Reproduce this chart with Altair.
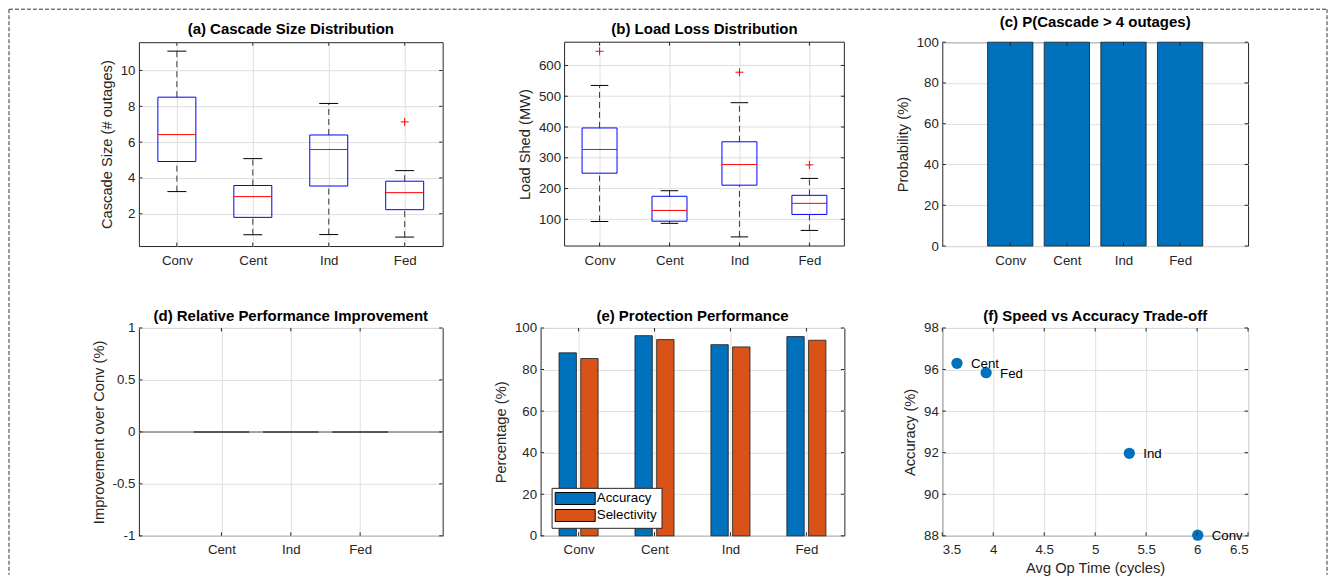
import altair as alt
import pandas as pd

FONT = "Liberation Sans"
TXT = "#262626"
GRID = "#dfdfdf"
BLUE = "#0072BD"
ORANGE = "#D95319"
EDGE = "#1a1a1a"

CATS = ["Conv", "Cent", "Ind", "Fed"]

# (a) cascade size box statistics
A_LO = [3.24, 0.83, 0.84, 0.70]
A_Q1 = [4.92, 1.80, 3.55, 2.23]
A_MED = [6.42, 2.96, 5.59, 3.18]
A_Q3 = [8.51, 3.58, 6.40, 3.82]
A_HI = [11.08, 5.08, 8.16, 4.41]
A_OUT_CAT = ["Fed"]
A_OUT_VAL = [7.13]
A_YTICKS = [2, 4, 6, 8, 10]
A_YDOM = [0.2, 11.58]

# (b) load loss box statistics
B_LO = [93, 87, 43, 64]
B_Q1 = [250, 94, 211, 116]
B_MED = [327, 129, 278, 152]
B_Q3 = [397, 175, 352, 178]
B_HI = [535, 193, 479, 233]
B_OUT_CAT = ["Conv", "Ind", "Fed"]
B_OUT_VAL = [646, 578, 277]
B_YTICKS = [100, 200, 300, 400, 500, 600]
B_YDOM = [13.3, 675.6]

# (c) probability of cascade > 4
C_PROB = [100, 100, 100, 100]
PCT_TICKS = [0, 20, 40, 60, 80, 100]

# (d) relative improvement
D_CATS = ["Cent", "Ind", "Fed"]
D_IMPR = [0, 0, 0]
D_YTICKS = [-1, -0.5, 0, 0.5, 1]

# (e) protection performance
METRICS = ["Accuracy", "Selectivity"]
E_ACC = [88.03, 96.30, 91.97, 95.85]
E_SEL = [85.3, 94.4, 90.9, 94.1]

# (f) speed vs accuracy
F_TIME = [6.006, 3.644, 5.335, 3.930]
F_ACC = E_ACC
F_XTICKS = [3.5, 4, 4.5, 5, 5.5, 6, 6.5]
F_YTICKS = [88, 90, 92, 94, 96, 98]

NUM_LABEL = "'' + datum.value"


def cat_expr(names):
    arr = "[" + ",".join("'%s'" % n for n in names) + "]"
    return arr + "[round(datum.value) - 1]"


def x_axis(values, names=None, title=None, grid=True):
    expr = cat_expr(names) if names is not None else NUM_LABEL
    return alt.Axis(values=values, labelExpr=expr, title=title, grid=grid)


def y_axis(values, title, grid=True, offset=0):
    return alt.Axis(values=values, labelExpr=NUM_LABEL, title=title, grid=grid, offset=offset)


def tick_layers(xvals, yvals, xs, ys, XA, YA, W, H, x_left=0):
    L = 3.5
    tx = alt.Chart(pd.DataFrame({"t": xvals})).mark_rule(color=TXT, strokeWidth=1)
    ty = alt.Chart(pd.DataFrame({"t": yvals})).mark_rule(color=TXT, strokeWidth=1)
    X = alt.X("t:Q", scale=xs, axis=XA)
    Y = alt.Y("t:Q", scale=ys, axis=YA)
    return [
        tx.encode(x=X, y=alt.value(H), y2=alt.value(H - L)),
        tx.encode(x=X, y=alt.value(0), y2=alt.value(L)),
        ty.encode(y=Y, x=alt.value(x_left), x2=alt.value(x_left + L)),
        ty.encode(y=Y, x=alt.value(W), x2=alt.value(W - L)),
    ]


def box_panel(title, ytitle, lo, q1, med, q3, hi, out_cat, out_val, ydom, yticks,
              W, H, left_px=0, border=False):
    step = (W - left_px) / 4.0
    xs = alt.Scale(domain=[0.5 - left_px / step, 4.5], nice=False, zero=False)
    ys = alt.Scale(domain=ydom, nice=False, zero=False)
    manual = left_px > 0
    XA = x_axis([1, 2, 3, 4], CATS)
    YA = y_axis(yticks, ytitle, grid=not manual, offset=-left_px)
    df = pd.DataFrame({"idx": [1, 2, 3, 4], "lo": lo, "q1": q1, "med": med, "q3": q3, "hi": hi})
    base = alt.Chart(df).transform_calculate(
        bl="datum.idx - 0.25", br="datum.idx + 0.25",
        cl="datum.idx - 0.125", cr="datum.idx + 0.125")

    def X(f):
        return alt.X(f, scale=xs, axis=XA)

    def Y(f):
        return alt.Y(f, scale=ys, axis=YA)

    layers = []
    if manual:
        gdf = pd.DataFrame({"t": yticks})
        layers.append(
            alt.Chart(gdf).transform_calculate(x0="0.5", x1="4.5")
            .mark_rule(color=GRID, strokeWidth=1)
            .encode(x=X("x0:Q"), x2="x1:Q", y=Y("t:Q")))
    dash = base.mark_rule(color="#3a3a3a", strokeWidth=1, strokeDash=[6, 4])
    layers.append(dash.encode(x=X("idx:Q"), y=Y("q3:Q"), y2="hi:Q"))
    layers.append(dash.encode(x=X("idx:Q"), y=Y("lo:Q"), y2="q1:Q"))
    cap = base.mark_rule(color="#000", strokeWidth=1)
    layers.append(cap.encode(x=X("cl:Q"), x2="cr:Q", y=Y("hi:Q")))
    layers.append(cap.encode(x=X("cl:Q"), x2="cr:Q", y=Y("lo:Q")))
    layers.append(base.mark_rect(fillOpacity=0, stroke="#0000FF", strokeWidth=1)
                  .encode(x=X("bl:Q"), x2="br:Q", y=Y("q1:Q"), y2="q3:Q"))
    layers.append(base.mark_rule(color="#FF0000", strokeWidth=1)
                  .encode(x=X("bl:Q"), x2="br:Q", y=Y("med:Q")))
    odf = pd.DataFrame({"cat": out_cat, "val": out_val})
    layers.append(
        alt.Chart(odf).transform_calculate(idx=f"indexof({CATS!r}, datum.cat) + 1")
        .mark_point(shape="M-1,0L1,0M0,-1L0,1", filled=False, color="#FF0000",
                    size=64, strokeWidth=1, opacity=1)
        .encode(x=X("idx:Q"), y=Y("val:Q")))
    layers += tick_layers([1, 2, 3, 4], yticks, xs, ys, XA, YA, W, H, x_left=left_px)
    if manual:
        fdf = pd.DataFrame({"x0": [0.5], "x1": [4.5], "y0": [ydom[0]], "y1": [ydom[1]]})
        layers.append(alt.Chart(fdf).mark_rect(fillOpacity=0, stroke=TXT, strokeWidth=1)
                      .encode(x=X("x0:Q"), x2="x1:Q", y=Y("y0:Q"), y2="y1:Q"))
    if border:
        bd = alt.Chart(pd.DataFrame({"k": [0]})).mark_rule(
            color="#333333", strokeWidth=1, strokeDash=[4, 2])
        layers.append(bd.encode(x=alt.value(-130), y=alt.value(-33), y2=alt.value(533)))
        layers.append(bd.encode(x=alt.value(1189), y=alt.value(-33), y2=alt.value(533)))
        layers.append(bd.encode(x=alt.value(-130), x2=alt.value(1189), y=alt.value(-33)))
        tp = alt.TitleParams(title, offset=-28.5)
    else:
        tp = alt.TitleParams(title, offset=5, dx=left_px / 2.0)
    ch = alt.layer(*layers).properties(width=W, height=H, title=tp)
    if manual:
        ch = ch.properties(view=alt.ViewBackground(stroke="transparent"))
    return ch


# ---- (a), (b)
pa = box_panel("(a) Cascade Size Distribution", "Cascade Size (# outages)",
               A_LO, A_Q1, A_MED, A_Q3, A_HI, A_OUT_CAT, A_OUT_VAL, A_YDOM, A_YTICKS,
               304, 204, border=True)
pb = box_panel("(b) Load Loss Distribution", "Load Shed (MW)",
               B_LO, B_Q1, B_MED, B_Q3, B_HI, B_OUT_CAT, B_OUT_VAL, B_YDOM, B_YTICKS,
               304, 204, left_px=24)

# ---- (c)
Wc, Hc = 306, 204
xs_c = alt.Scale(domain=[-0.2, 5.2], nice=False, zero=False)
ys_c = alt.Scale(domain=[0, 100], nice=False, zero=False)
XA_c = x_axis([1, 2, 3, 4], CATS)
YA_c = y_axis(PCT_TICKS, "Probability (%)")
c_df = pd.DataFrame({"idx": [1, 2, 3, 4], "val": C_PROB})
c_bars = alt.Chart(c_df).transform_calculate(
    xl="datum.idx - 0.4", xr="datum.idx + 0.4", zero="0"
).mark_rect(color=BLUE, stroke=EDGE, strokeWidth=0.8).encode(
    x=alt.X("xl:Q", scale=xs_c, axis=XA_c), x2="xr:Q",
    y=alt.Y("val:Q", scale=ys_c, axis=YA_c), y2="zero:Q")
pc = alt.layer(c_bars, *tick_layers([1, 2, 3, 4], PCT_TICKS, xs_c, ys_c, XA_c, YA_c, Wc, Hc)).properties(
    width=Wc, height=Hc,
    title=alt.TitleParams("(c) P(Cascade > 4 outages)", offset=5))

# ---- (d)
Wd, Hd = 304, 208
xs_d = alt.Scale(domain=[-0.19, 4.19], nice=False, zero=False)
ys_d = alt.Scale(domain=[-1, 1], nice=False, zero=False)
XA_d = x_axis([1, 2, 3], D_CATS)
YA_d = y_axis(D_YTICKS, "Improvement over Conv (%)")
d_df = pd.DataFrame({"idx": [1, 2, 3], "val": D_IMPR})
d_base_df = pd.DataFrame({"x0": [-0.19], "x1": [4.19], "y0": [0]})
d_baseline = alt.Chart(d_base_df).mark_rule(color="#8a8a8a", strokeWidth=1.5).encode(
    x=alt.X("x0:Q", scale=xs_d, axis=XA_d), x2="x1:Q",
    y=alt.Y("y0:Q", scale=ys_d, axis=YA_d))
d_bars = alt.Chart(d_df).transform_calculate(
    xl="datum.idx - 0.4", xr="datum.idx + 0.4", zero="0"
).mark_rect(color=BLUE, stroke="#3c3c3c", strokeWidth=1.5).encode(
    x=alt.X("xl:Q", scale=xs_d, axis=XA_d), x2="xr:Q",
    y=alt.Y("val:Q", scale=ys_d, axis=YA_d), y2="zero:Q")
pd_ = alt.layer(d_baseline, d_bars,
                *tick_layers([1, 2, 3], D_YTICKS, xs_d, ys_d, XA_d, YA_d, Wd, Hd)).properties(
    width=Wd, height=Hd, title=alt.TitleParams("(d) Relative Performance Improvement", offset=-3.5))

# ---- (e)
We, He = 304, 208
xs_e = alt.Scale(domain=[0.5, 4.5], nice=False, zero=False)
ys_e = alt.Scale(domain=[0, 100], nice=False, zero=False)
XA_e = x_axis([1, 2, 3, 4], CATS)
YA_e = y_axis(PCT_TICKS, "Percentage (%)")
e_df = pd.DataFrame({
    "idx": [1, 2, 3, 4] * 2,
    "metric": [METRICS[0]] * 4 + [METRICS[1]] * 4,
    "val": E_ACC + E_SEL,
})
e_bars = alt.Chart(e_df).transform_calculate(
    off="datum.metric == 'Accuracy' ? -0.1429 : 0.1429",
).transform_calculate(
    xl="datum.idx + datum.off - 0.1143", xr="datum.idx + datum.off + 0.1143", zero="0"
).mark_rect(stroke=EDGE, strokeWidth=0.8, opacity=1).encode(
    x=alt.X("xl:Q", scale=xs_e, axis=XA_e), x2="xr:Q",
    y=alt.Y("val:Q", scale=ys_e, axis=YA_e), y2="zero:Q",
    color=alt.Color("metric:N", scale=alt.Scale(domain=METRICS, range=[BLUE, ORANGE]),
                    legend=alt.Legend(
                        title=None, orient="none", legendX=11, legendY=160,
                        direction="vertical",
                        symbolType="M-3.333,-1L3.333,-1L3.333,1L-3.333,1Z", symbolSize=144,
                        symbolOffset=13,
                        symbolStrokeColor="#000", symbolStrokeWidth=1, symbolOpacity=1,
                        labelFont=FONT, labelFontSize=13.3, labelColor="#000",
                        labelOffset=15, padding=4, rowPadding=0,
                        strokeColor="#262626", fillColor="#ffffff")),
)
pe = alt.layer(e_bars, *tick_layers([1, 2, 3, 4], PCT_TICKS, xs_e, ys_e, XA_e, YA_e, We, He)).properties(
    width=We, height=He, title=alt.TitleParams("(e) Protection Performance", offset=-3.5))

# ---- (f)
Wf, Hf = 306, 208
xs_f = alt.Scale(domain=[3.5, 6.5], nice=False, zero=False)
ys_f = alt.Scale(domain=[88, 98], nice=False, zero=False)
XA_f = x_axis(F_XTICKS, title="Avg Op Time (cycles)")
YA_f = y_axis(F_YTICKS, "Accuracy (%)")
f_df = pd.DataFrame({"name": CATS, "time": F_TIME, "acc": F_ACC})
f_pts = alt.Chart(f_df).mark_circle(size=127, color=BLUE, opacity=1).encode(
    x=alt.X("time:Q", scale=xs_f, axis=XA_f),
    y=alt.Y("acc:Q", scale=ys_f, axis=YA_f))
f_txt = alt.Chart(f_df).mark_text(align="left", baseline="middle", dx=14, dy=1,
                                  font=FONT, fontSize=13.3, color="#000").encode(
    x=alt.X("time:Q", scale=xs_f, axis=XA_f),
    y=alt.Y("acc:Q", scale=ys_f, axis=YA_f),
    text="name:N")
pf = alt.layer(f_pts, f_txt,
               *tick_layers(F_XTICKS, F_YTICKS, xs_f, ys_f, XA_f, YA_f, Wf, Hf)).properties(
    width=Wf, height=Hf, title=alt.TitleParams("(f) Speed vs Accuracy Trade-off", offset=-3.5))

chart = alt.concat(
    pa, pb, pc, pd_, pe, pf,
    columns=3,
    spacing=alt.RowColnumber(row=82, column=98),
    bounds="flush",
).resolve_scale(
    color="independent",
).resolve_legend(
    color="independent",
).properties(
    padding=0,
    background="#ffffff",
).configure(
    font=FONT,
).configure_view(
    stroke=TXT, strokeWidth=1,
).configure_axis(
    labelFont=FONT, labelFontSize=13.3, labelColor=TXT,
    titleFont=FONT, titleFontSize=14.7, titleFontWeight="normal", titleColor=TXT,
    domain=False, ticks=False, tickSize=0,
    gridColor=GRID, gridWidth=1, gridOpacity=1,
).configure_axisX(
    labelPadding=7, titlePadding=4,
).configure_axisY(
    labelPadding=4, titlePadding=6,
).configure_title(
    font=FONT, fontSize=15, fontWeight="bold", color="#000",
    anchor="middle", frame="group",
)

chart.save("out.html", embed_options={"renderer": "svg", "actions": False})
